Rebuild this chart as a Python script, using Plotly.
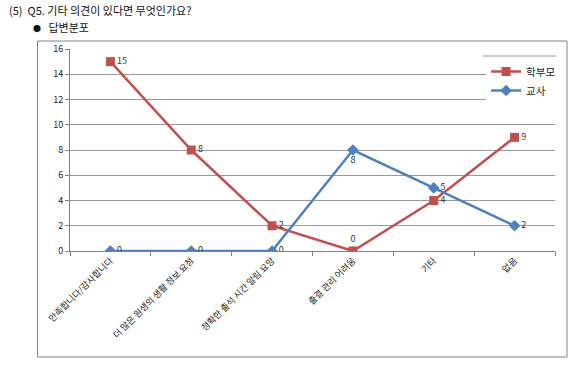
import plotly.graph_objects as go

categories = ["만족합니다/감사합니다", "더 많은 원생의 생활 정보 요청", "정확한 출석 시간 알림 요망",
              "출결 관리 어려움", "기타", "없음"]
parents = [15, 8, 2, 0, 4, 9]
teachers = [0, 0, 0, 8, 5, 2]

FONT = "Noto Sans CJK KR"
RED = "#C0504D"
BLUE = "#4F81BD"

W, H = 571, 367
# page coordinates of plot area
PL, PR, PT, PB = 69.5, 555, 49, 251
L, T = PL, PT
R = W - PR
B = H - PB
pw = PR - PL
ph = PB - PT

def px(x):
    return (x - PL) / pw

def py(y):
    return (PB - y) / ph

fig = go.Figure()
fig.add_trace(go.Scatter(
    x=categories, y=parents, name="학부모", mode="lines+markers+text",
    line=dict(color=RED, width=2.5),
    marker=dict(symbol="square", size=9, color=RED),
    text=[str(v) for v in parents],
    textposition=["middle right", "middle right", "middle right", "top center", "middle right", "middle right"],
    textfont=dict(size=9, color="#333333", family=FONT),
))
fig.add_trace(go.Scatter(
    x=categories, y=teachers, name="교사", mode="lines+markers+text",
    line=dict(color=BLUE, width=2.5),
    marker=dict(symbol="diamond", size=9, color=BLUE),
    text=[str(v) for v in teachers],
    textposition=["middle right", "middle right", "middle right", "bottom center", "middle right", "middle right"],
    textfont=dict(size=9, color="#333333", family=FONT),
))

fig.update_layout(
    width=W, height=H,
    margin=dict(l=L, r=R, t=T, b=B, autoexpand=False),
    paper_bgcolor="white", plot_bgcolor="white",
    font=dict(family=FONT, size=9, color="#222222"),
    legend=dict(x=px(486), y=py(57), xanchor="left", yanchor="top",
                bgcolor="white", font=dict(size=10.5, family=FONT),
                itemwidth=30, tracegroupgap=0),
    xaxis=dict(type="category", range=[-0.5, 5.5], tickangle=-45, automargin=False,
               showline=True, linecolor="#808080", linewidth=1,
               ticks="outside", ticklen=4, tickcolor="#808080", tickson="boundaries",
               showgrid=False, tickfont=dict(size=9, family=FONT)),
    yaxis=dict(range=[0, 16], dtick=2, showline=True, linecolor="#808080", linewidth=1,
               automargin=False,
               ticks="outside", ticklen=4, tickcolor="#808080",
               showgrid=True, gridcolor="#9a9a9a", gridwidth=1, zeroline=False,
               tickfont=dict(size=9, family=FONT)),
    showlegend=True,
)

# outer chart border
fig.add_shape(type="rect", xref="paper", yref="paper",
              x0=px(37), x1=px(567), y0=py(357), y1=py(41),
              line=dict(color="#808080", width=1), fillcolor="rgba(0,0,0,0)", layer="below")
# legend top line
fig.add_shape(type="line", xref="paper", yref="paper",
              x0=px(483), x1=px(556), y0=py(56), y1=py(56),
              line=dict(color="#9a9a9a", width=1))

fig.add_annotation(text="(5)  Q5. 기타 의견이 있다면 무엇인가요?", xref="paper", yref="paper",
                   x=px(6), y=py(10), xanchor="left", yanchor="middle", showarrow=False,
                   font=dict(size=11, family=FONT, color="#111111"))
fig.add_annotation(text="<span style='font-size:8px'>●</span>   답변분포", xref="paper", yref="paper",
                   x=px(30), y=py(27), xanchor="left", yanchor="middle", showarrow=False,
                   font=dict(size=11, family=FONT, color="#111111"))

fig.write_html("out.html", config={"displayModeBar": False},
               post_script="document.body.style.margin='0';document.body.style.overflow='hidden';")
